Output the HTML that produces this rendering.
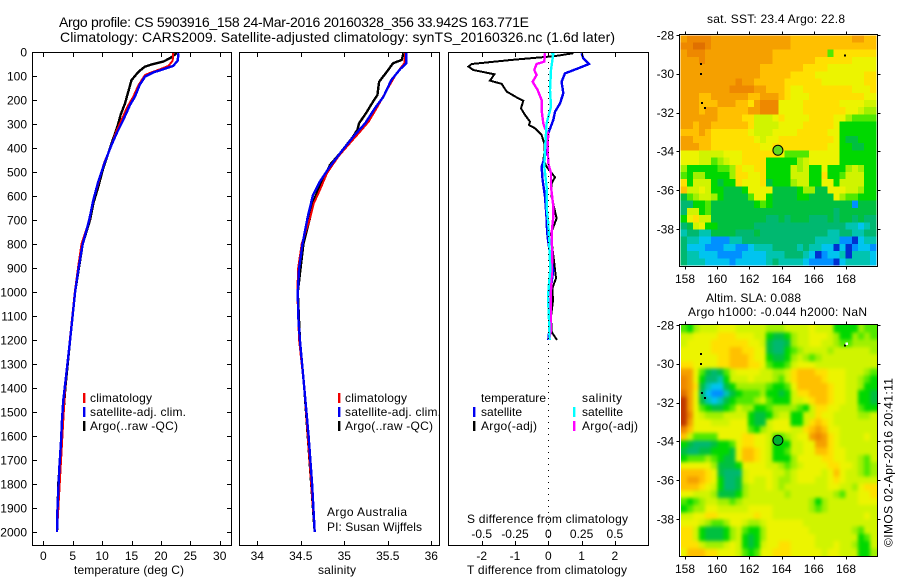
<!DOCTYPE html>
<html lang="en">
<head>
<meta charset="utf-8">
<title>Argo profile CS 5903916_158</title>
<style>
html,body{margin:0;padding:0;background:#fff;}
svg{display:block;}
text{font-family:"Liberation Sans",sans-serif;font-size:12px;fill:#000;}
.t14{font-size:14px;}
</style>
</head>
<body>
<svg id="chart" xmlns="http://www.w3.org/2000/svg" width="900" height="580" viewBox="0 0 900 580">
  <defs>
    <filter id="slaSmooth" filterUnits="userSpaceOnUse" x="670" y="315" width="220" height="252" color-interpolation-filters="sRGB">
      <feGaussianBlur stdDeviation="1.9"/>
      <feComponentTransfer><feFuncA type="linear" slope="60"/></feComponentTransfer>
    </filter>
    <clipPath id="slaClip"><rect x="681" y="325" width="196" height="231"/></clipPath>
  </defs>
  <text class="t14" x="59" y="27" textLength="470">Argo profile: CS 5903916_158 24-Mar-2016 20160328_356 33.942S 163.771E</text>
  <text class="t14" x="60" y="42" textLength="555">Climatology: CARS2009. Satellite-adjusted climatology: synTS_20160326.nc (1.6d later)</text>

  <g id="sstCells"></g>
  <g clip-path="url(#slaClip)">
    <g id="slaCells" filter="url(#slaSmooth)"></g>
  </g>
  <g id="marks"></g>
  <g id="axes" shape-rendering="crispEdges"></g>

  <g>
    <rect x="83" y="393" width="2.4" height="10" fill="#f00000"/>
    <text x="90" y="402" textLength="62">climatology</text>
    <rect x="83" y="407" width="2.4" height="10" fill="#0000f0"/>
    <text x="90" y="416" textLength="96">satellite-adj. clim.</text>
    <rect x="83" y="421" width="2.4" height="10" fill="#000"/>
    <text x="90" y="430" textLength="88">Argo(..raw -QC)</text>
  </g>
  <g>
    <rect x="338" y="393" width="2.4" height="10" fill="#f00000"/>
    <text x="345" y="402" textLength="62">climatology</text>
    <rect x="338" y="407" width="2.4" height="10" fill="#0000f0"/>
    <text x="345" y="416" textLength="96">satellite-adj. clim.</text>
    <rect x="338" y="421" width="2.4" height="10" fill="#000"/>
    <text x="345" y="430" textLength="88">Argo(..raw -QC)</text>
  </g>
  <text x="327" y="516" textLength="80">Argo Australia</text>
  <text x="327" y="531" textLength="95">PI: Susan Wijffels</text>

  <g>
    <text x="481" y="402" textLength="65">temperature</text>
    <text x="582" y="402" textLength="40">salinity</text>
    <rect x="473" y="407" width="2.4" height="10" fill="#0000f0"/>
    <text x="481" y="416" textLength="41">satellite</text>
    <rect x="473" y="421" width="2.4" height="10" fill="#000"/>
    <text x="481" y="430" textLength="56">Argo(-adj)</text>
    <rect x="573" y="407" width="2.4" height="10" fill="#00ffff"/>
    <text x="582" y="416" textLength="41">satellite</text>
    <rect x="573" y="421" width="2.4" height="10" fill="#ff00ff"/>
    <text x="582" y="430" textLength="56">Argo(-adj)</text>
  </g>

  <text x="74" y="574" textLength="110">temperature (deg C)</text>
  <text x="318" y="574" textLength="38">salinity</text>
  <text x="467" y="523" textLength="161">S difference from climatology</text>
  <text x="467" y="574" textLength="160">T difference from climatology</text>

  <text x="707" y="23" textLength="138">sat. SST: 23.4 Argo: 22.8</text>
  <text x="706" y="302" textLength="95">Altim. SLA: 0.088</text>
  <text x="688" y="316" textLength="179">Argo h1000: -0.044 h2000: NaN</text>
  <text transform="translate(892.5,547) rotate(-90)" textLength="169">©IMOS 02-Apr-2016 20:41:11</text>
</svg>
<script>
/* ---------- profile data ---------- */
const climTempDepth = [5,36,58,72,85,96,137,186,228,283,332,394,464,547,617,700,800,900,1000,1200,1400,2000];
const climTemp = [22.1,22,21.3,19.85,18.4,17.3,16.2,15.3,14.3,13.3,12.4,11.5,10.3,9.36,8.5,7.85,6.5,5.9,5.35,4.5,3.7,2.33];
const satTempDepth = [5,36,58,72,85,103,137,186,221,283,332,387,457,540,617,700,800,900,1000,1200,1367,1450,1533,1630,1727,1825,1921,2000];
const satTemp = [23,22.85,22.1,20.4,18.7,17.3,16.4,15.6,14.75,13.6,12.6,11.6,10.5,9.36,8.5,7.8,6.7,6,5.4,4.55,3.8,3.4,3.18,3,2.73,2.55,2.38,2.33];
const argoTempDepth = [5,26,40,50,61,82,117,165,214,262,311,360,422,492,561,631,700,800,1000,1200,1400,1800,2000];
const argoTemp = [22.7,21.55,20.4,18.7,17.3,16.2,15,14.45,13.9,13.15,12.6,11.9,11.05,10.1,9.36,8.5,7.94,6.7,5.4,4.55,3.75,2.55,2.33];

const climSalDepth = [5,47,89,158,235,290,332,394,436,506,575,631,700,800,900,1000,1200,1400,2000];
const climSal = [35.7,35.69,35.6,35.49,35.37,35.28,35.18,35.03,34.93,34.8,34.72,34.65,34.6,34.51,34.47,34.46,34.48,34.54,34.66];
const satSalDepth = [5,47,72,117,186,235,297,346,422,485,540,596,686,800,900,1000,1100,1200,1400,1600,1800,2000];
const satSal = [35.71,35.71,35.64,35.54,35.45,35.35,35.24,35.12,34.95,34.82,34.72,34.64,34.58,34.52,34.48,34.465,34.47,34.49,34.54,34.59,34.63,34.66];
const argoSalDepth = [5,33,47,82,124,179,207,249,297,325,353,422,471,533,589,631,693,800,1000,1200,1400,2000];
const argoSal = [35.68,35.66,35.56,35.49,35.4,35.38,35.33,35.26,35.17,35.15,35.1,34.95,34.835,34.76,34.68,34.64,34.605,34.53,34.465,34.49,34.54,34.66];

const argoDiffTDepth = [5,17,33,50,61,75,93,119,133,165,189,203,235,262,290,304,318,346,381,422,450,478,522,547,603,693,756,825,881,943,985,1034,1103,1166,1200];
const argoDiffT = [0.75,0.2,-1.1,-2.3,-2.4,-2.25,-1.62,-1.75,-1.4,-1.25,-0.95,-0.75,-0.82,-0.7,-0.55,-0.58,-0.4,-0.2,-0.12,-0.12,-0.15,-0.05,0.2,0.1,0.1,0.25,0.08,0.13,0.18,0.23,0.12,0.14,0.08,0.1,0.26];
const satDiffTDepth = [5,26,50,68,89,124,172,214,249,283,339,381,436,478,533,603,693,714,770,839,909,978,1172,1200];
const satDiffT = [1,1.05,1.22,0.9,0.5,0.4,0.45,0.35,0.2,0.15,0,-0.05,-0.1,-0.2,-0.17,-0.1,-0.05,-0.05,-0.02,0.05,0.15,0.08,0.02,0];
const argoDiffSDepth = [5,40,50,75,96,124,158,200,242,297,318,339,394,464,505,561,644,686,756,853,936,1034,1159,1200];
const argoDiffS = [-0.025,-0.03,-0.0875,-0.105,-0.0875,-0.1175,-0.08,-0.05,-0.05,-0.0375,-0.025,0,-0.005,0,0.02,0.02,0.0375,0.0375,0.025,0.03,0.025,0.0175,0.02,0.005];
const satDiffSDepth = [5,8,75,158,228,297,408,478,561,644,714,797,909,964,1020,1117,1200];
const satDiffS = [0.02,0.0375,0.02,0.0125,0.02,-0.0125,-0.025,-0.03,-0.0125,-0.0125,0,0.0075,0.015,0.005,-0.0025,0.005,0.01];

/* ---------- tick labels ---------- */
const depthTicks = [0,100,200,300,400,500,600,700,800,900,1000,1100,1200,1300,1400,1500,1600,1700,1800,1900,2000];
const tempTicks = [0,5,10,15,20,25,30];
const salTicks = [34,34.5,35,35.5,36];
const diffTTicks = [-2,-1,0,1,2];
const diffSTicks = [-0.5,-0.25,0,0.25,0.5];
const lonTicks = [158,160,162,164,166,168];
const latTicks = [-28,-30,-32,-34,-36,-38];

/* ---------- map data: one base-36 colour class per cell ---------- */
const mapPalette = ['#c03800','#e07000','#ee8800','#f5a000','#ffc000','#ffe000','#ecf400','#d0f400','#a0f000','#50e800','#00d800','#00c040','#00b870','#00c4b0','#00c4f0','#0090ff','#0030d0'];
const sstRows = [
"32222333333333333344444444443344",
"22112333333333333344444444444444",
"32223333333333344444444495555555",
"33323333333333344444445555556666",
"33333333333334444444555566666666",
"33333333333334444455556666666655",
"33333333323344444555555666666655",
"33333333222233444566555555556665",
"33344333333443334566655555555566",
"33344433344532226666555555666677",
"33343344444332226666555555566788",
"33333344445577765666655556689999",
"33433444444577776666555556aaaaaa",
"44434555555677766665555566aaaaaa",
"33444555555567665555555556abbaaa",
"33344555555556655555555566aabbaa",
"66677776665555556999966666aaaaaa",
"66677987665555aaaaa8766666aaaaaa",
"8aaaaa99856655aaaa787aa6aaa878aa",
"9a88aaaa855665aaaa777aa5aa9777aa",
"5a777abaa56665baaa877aa66a7777aa",
"47767aabbba6666bbbba88bb666778aa",
"b98778abbbb966abbbbaabbbb6899aaa",
"ccaa9bbbbbbba9abbbbbbbbbbbbbfbbb",
"c77a9bbbbbbbbbbbbbbbbbbbbcbbbbbb",
"a6577bbbbbbbbbccbcbbbcccbcbbcbcc",
"cb76aabbbbbbcccccccccccccccddedc",
"dccddbbbbcccbcccccccccccddccddcc",
"cddeefffddccccccccccccddddffgedd",
"ceeefffeeffedddccccdcddeegegfeef",
"cddeeeffffeeeedddcccdegfeedgddde",
"cdddeeeefeeeeedcddddeffffgedddde"
];
const slaRows = [
"9a87776667777788877776777aaaa899",
"77666655566677abba87766678aa8989",
"76666555555667bccb87766778998888",
"66666555445566bcca98777787777778",
"66666655444566abba87898777777777",
"556666554445569aa976667777777777",
"3369bcb9766667788754445566677789",
"236accda77767778975444456667789a",
"235bdeeba888889aa9644444566778aa",
"136ceffdba9998aaba75544456677aab",
"036bdedba999879aaa77654456677aab",
"0369abba9788aa988889a755667779aa",
"02678887777abba877aa775667777887",
"03666777666abb7666aa754567777777",
"246666666669a8766677543466777777",
"47999966665566799876632356777767",
"abcccbaa9655667aaa77663356777777",
"bccbbaaab644567aa977664456677777",
"a99989abb644567aaa86666556677897",
"666668bbba6666778987666655667898",
"444456bccc7666677876666764677898",
"433456accb7677678876667765677777",
"444567accb8777678777777766778655",
"667778bbba8777777877777778977665",
"9a98778898777777777778a877777666",
"a9886677777666677777789877777777",
"77665566666656677777777777777767",
"66678998667887666666777777777777",
"557abbba879aa8666666677777778977",
"557abbba87aba8666666667777777a97",
"5557888767aba7665566667776778aa7",
"64445566679a96655566666766777aa8"
];
const coastLon = [159.0,158.98,159.05,159.25,167.95];
const coastLat = [-29.5,-30.0,-31.5,-31.75,-29.05];
const floatLon = [163.771];
const floatLat = [-33.942];

/* ---------- axis functions ---------- */
const yDepth = d => 52 + 0.24 * d;
const xTemp = t => 43.3 + 5.88 * t;
const xSal = s => 257.3 + 87 * (s - 34);
const xDiffT = t => 548.3 + 33.3 * t;
const xDiffS = s => 548.3 + 133.2 * s;
const xLon = lon => 685 + 16.1 * (lon - 158);
const yLat1 = lat => 35 + 19.4 * (-28 - lat);
const yLat2 = lat => 325 + 19.4 * (-28 - lat);

const NS = 'http://www.w3.org/2000/svg';
const marks = document.getElementById('marks');
const axes = document.getElementById('axes');

function make(tag, parent, attrs, name) {
  const el = document.createElementNS(NS, tag);
  for (const k in attrs) el.setAttribute(k, attrs[k]);
  
  
  parent.appendChild(el);
  return el;
}
function line(x1, y1, x2, y2, name) {
  make('line', axes, {x1, y1, x2, y2, stroke: '#000', 'stroke-width': 1}, name);
}
function label(str, x, y, anchor, name) {
  const t = make('text', axes, {x, y, 'text-anchor': anchor}, name);
  t.textContent = str;
}
function profile(depths, values, xFn, color, width, name) {
  const pts = depths.map((d, i) => xFn(values[i]).toFixed(1) + ',' + yDepth(d).toFixed(1)).join(' ');
  make('polyline', marks, {points: pts, fill: 'none', stroke: color, 'stroke-width': width, 'shape-rendering': 'crispEdges'}, name);
}
function frame(x, y, w, h, name) {
  make('rect', axes, {x, y, width: w, height: h, fill: 'none', stroke: '#000', 'stroke-width': 1}, name);
}

/* ---------- maps ---------- */
function drawMap(rows, groupId, yLat, name) {
  const g = document.getElementById(groupId);
  const lon0 = 157.73, dLon = 12.15 / 32, lat0 = -28.015, dLat = 11.865 / rows.length;
  rows.forEach((row, r) => {
    for (let c = 0; c < 32; c++) {
      const code = row[Math.min(c, row.length - 1)];
      const x0 = xLon(lon0 + c * dLon), x1 = xLon(lon0 + (c + 1) * dLon);
      const y0 = yLat(lat0 - r * dLat), y1 = yLat(lat0 - (r + 1) * dLat);
      make('rect', g, {x: x0.toFixed(2), y: y0.toFixed(2), width: (x1 - x0).toFixed(2), height: (y1 - y0).toFixed(2),
        fill: mapPalette[parseInt(code, 36)], 'shape-rendering': 'crispEdges'}, name);
    }
  });
}
drawMap(sstRows, 'sstCells', yLat1, 'sst-cell');
drawMap(slaRows, 'slaCells', yLat2, 'sla-cell');

[yLat1, yLat2].forEach((yLat, m) => {
  coastLon.forEach((lon, i) => {
    make('rect', marks, {x: xLon(lon) - 1, y: yLat(coastLat[i]) - 1, width: 2, height: 2, fill: '#000', 'shape-rendering': 'crispEdges'}, 'coast-speck');
  });
  make('circle', marks, {cx: xLon(floatLon[0]), cy: yLat(floatLat[0]), r: 5, fill: m ? '#00b030' : '#60d820', stroke: '#000', 'stroke-width': 1}, 'float-position-marker');
});
make('rect', marks, {x: xLon(167.95) + 0.5, y: yLat2(-29.05) - 3, width: 2.5, height: 2.5, fill: '#fff', 'shape-rendering': 'crispEdges'}, 'map-gap-speck');

/* ---------- profiles ---------- */
profile(argoTempDepth, argoTemp, xTemp, '#000', 2.4, 'temperature-argo-line');
profile(climTempDepth, climTemp, xTemp, '#f00000', 2, 'temperature-climatology-line');
profile(satTempDepth, satTemp, xTemp, '#0000f0', 2.4, 'temperature-satellite-line');

profile(argoSalDepth, argoSal, xSal, '#000', 2.4, 'salinity-argo-line');
profile(climSalDepth, climSal, xSal, '#f00000', 2, 'salinity-climatology-line');
profile(satSalDepth, satSal, xSal, '#0000f0', 2.4, 'salinity-satellite-line');

profile(argoDiffTDepth, argoDiffT, xDiffT, '#000', 2, 't-difference-argo-line');
profile(satDiffTDepth, satDiffT, xDiffT, '#0000f0', 2.4, 't-difference-satellite-line');
profile(argoDiffSDepth, argoDiffS, xDiffS, '#ff00ff', 2.4, 's-difference-argo-line');
profile(satDiffSDepth, satDiffS, xDiffS, '#00ffff', 2.4, 's-difference-satellite-line');
make('line', marks, {x1: 548.5, y1: 56, x2: 548.5, y2: 545, stroke: '#000', 'stroke-width': 1, 'stroke-dasharray': '1 5', 'shape-rendering': 'crispEdges'}, 'zero-difference-line');

/* ---------- axes ---------- */
frame(32.5, 52.5, 199, 493, 'temperature-plot-frame');
frame(239.5, 52.5, 200, 493, 'salinity-plot-frame');
frame(448.5, 52.5, 200, 493, 'difference-plot-frame');
frame(679.5, 34.5, 198, 232, 'sst-map-frame');
frame(679.5, 324.5, 198, 232, 'sla-map-frame');

depthTicks.forEach(d => {
  const y = Math.round(yDepth(d)) + 0.5;
  line(32.5, y, 37, y, 'depth-tick-left');
  line(227, y, 231.5, y, 'depth-tick-right');
  label(String(d), 27, yDepth(d) + 4.3, 'end', 'depth-tick-label');
});
tempTicks.forEach(t => {
  const x = Math.round(xTemp(t)) + 0.5;
  line(x, 52.5, x, 57, 'temperature-tick-top');
  line(x, 541, x, 545.5, 'temperature-tick-bottom');
  label(String(t), xTemp(t), 560, 'middle', 'temperature-tick-label');
});
salTicks.forEach(s => {
  const x = Math.round(xSal(s)) + 0.5;
  line(x, 52.5, x, 57, 'salinity-tick-top');
  line(x, 541, x, 545.5, 'salinity-tick-bottom');
  label(String(s), xSal(s), 560, 'middle', 'salinity-tick-label');
});
diffTTicks.forEach(t => {
  const x = Math.round(xDiffT(t)) + 0.5;
  line(x, 52.5, x, 57, 'difference-tick-top');
  line(x, 541, x, 545.5, 'difference-tick-bottom');
  label(String(t), xDiffT(t), 560, 'middle', 't-difference-tick-label');
});
diffSTicks.forEach(s => {
  label(String(s), xDiffS(s), 538, 'middle', 's-difference-tick-label');
});
[[34.5, 266.5, yLat1, 283], [324.5, 556.5, yLat2, 573]].forEach(m => {
  lonTicks.forEach(lon => {
    const x = Math.round(xLon(lon)) + 0.5;
    line(x, m[0] - 3, x, m[0], 'longitude-tick-top');
    line(x, m[1], x, m[1] + 3, 'longitude-tick-bottom');
    label(String(lon), xLon(lon), m[3], 'middle', 'longitude-tick-label');
  });
  latTicks.forEach(lat => {
    const y = Math.round(m[2](lat)) + 0.5;
    line(676.5, y, 679.5, y, 'latitude-tick-left');
    line(877.5, y, 880.5, y, 'latitude-tick-right');
    label(String(lat), 674, m[2](lat) + 4.3, 'end', 'latitude-tick-label');
  });
});
</script>
</body>
</html>
